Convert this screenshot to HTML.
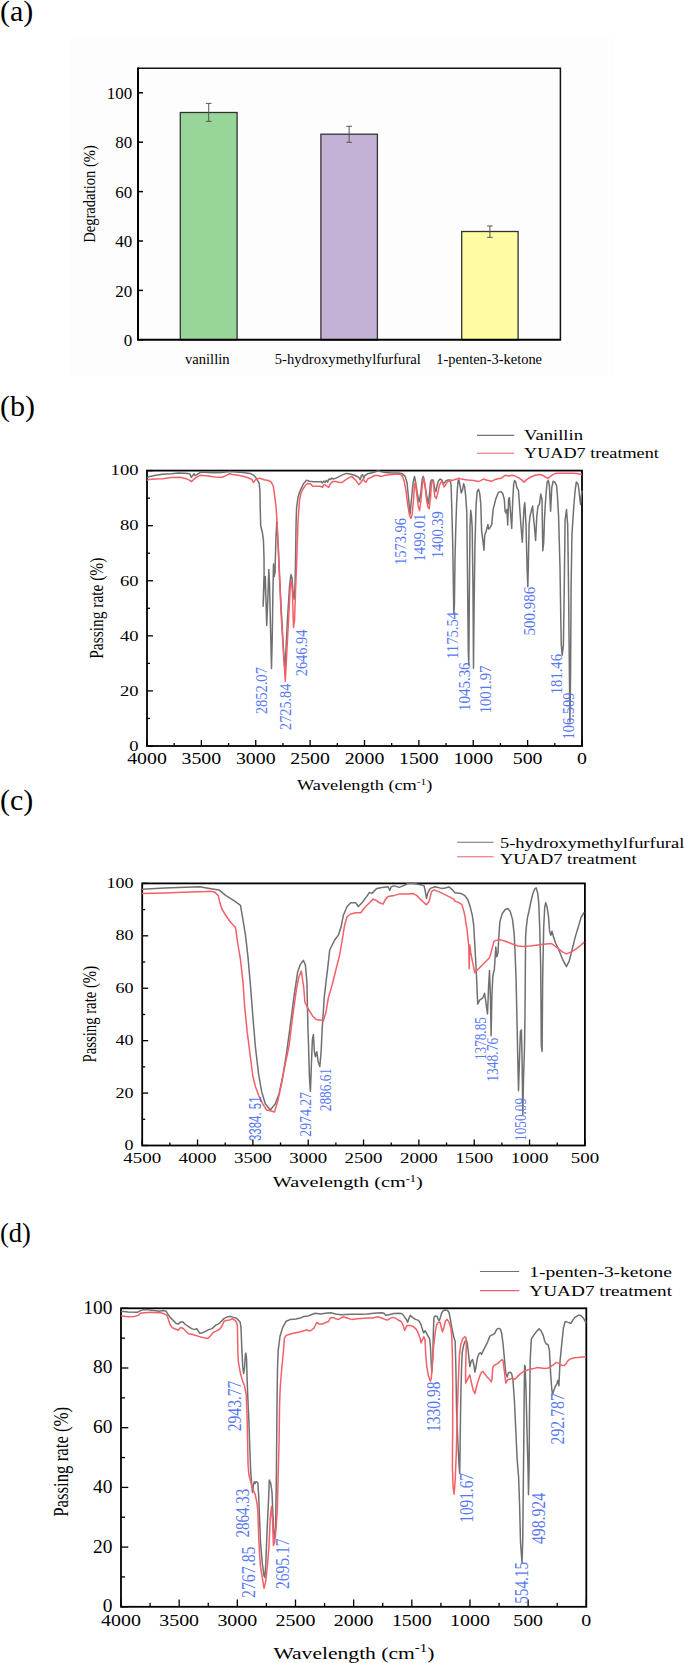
<!DOCTYPE html>
<html><head><meta charset="utf-8"><title>Figure</title>
<style>html,body{margin:0;padding:0;background:#fff;} body{width:685px;height:1663px;overflow:hidden;font-family:"Liberation Serif",serif;} svg{display:block;}</style>
</head><body>
<svg width="685" height="1663" viewBox="0 0 685 1663" font-family="Liberation Serif, serif"><text x="0" y="21.3" font-size="30" text-anchor="start" fill="#000" font-weight="normal">(a)</text>
<text x="0" y="416" font-size="30" text-anchor="start" fill="#000" font-weight="normal">(b)</text>
<text x="0" y="810" font-size="30" text-anchor="start" fill="#000" font-weight="normal">(c)</text>
<text x="0" y="1241.5" font-size="26.5" text-anchor="start" fill="#000" font-weight="normal">(d)</text>
<rect x="71" y="37.5" width="542" height="339.5" fill="#fdfdfd" stroke="none" stroke-width="1"/>
<rect x="180.3" y="112.5" width="56.79999999999998" height="227.3" fill="#98d598" stroke="#333" stroke-width="1.3"/>
<line x1="208.7" y1="103.4" x2="208.7" y2="121.3" stroke="#555" stroke-width="1"/>
<line x1="205.89999999999998" y1="103.4" x2="211.5" y2="103.4" stroke="#555" stroke-width="1"/>
<line x1="205.89999999999998" y1="121.3" x2="211.5" y2="121.3" stroke="#555" stroke-width="1"/>
<rect x="320.9" y="134.2" width="56.5" height="205.60000000000002" fill="#c4b1d6" stroke="#333" stroke-width="1.3"/>
<line x1="349.15" y1="126.3" x2="349.15" y2="142.3" stroke="#555" stroke-width="1"/>
<line x1="346.34999999999997" y1="126.3" x2="351.95" y2="126.3" stroke="#555" stroke-width="1"/>
<line x1="346.34999999999997" y1="142.3" x2="351.95" y2="142.3" stroke="#555" stroke-width="1"/>
<rect x="461.7" y="231.5" width="56.400000000000034" height="108.30000000000001" fill="#fffca3" stroke="#333" stroke-width="1.3"/>
<line x1="489.9" y1="226.0" x2="489.9" y2="237.3" stroke="#555" stroke-width="1"/>
<line x1="487.09999999999997" y1="226.0" x2="492.7" y2="226.0" stroke="#555" stroke-width="1"/>
<line x1="487.09999999999997" y1="237.3" x2="492.7" y2="237.3" stroke="#555" stroke-width="1"/>
<path d="M138,68.2 H560.4 V339.8" fill="none" stroke="#111" stroke-width="1.5"/>
<path d="M138,67.45 V339.8 H561.15" fill="none" stroke="#000" stroke-width="2"/>
<line x1="138" y1="339.8" x2="143" y2="339.8" stroke="#000" stroke-width="1.5"/>
<text x="123.72" y="346.0" font-size="16" text-anchor="start" fill="#000" font-weight="normal" textLength="8.48" lengthAdjust="spacingAndGlyphs">0</text>
<line x1="138" y1="290.4" x2="143" y2="290.4" stroke="#000" stroke-width="1.5"/>
<text x="115.24" y="296.59999999999997" font-size="16" text-anchor="start" fill="#000" font-weight="normal" textLength="16.96" lengthAdjust="spacingAndGlyphs">20</text>
<line x1="138" y1="241.0" x2="143" y2="241.0" stroke="#000" stroke-width="1.5"/>
<text x="115.24" y="247.2" font-size="16" text-anchor="start" fill="#000" font-weight="normal" textLength="16.96" lengthAdjust="spacingAndGlyphs">40</text>
<line x1="138" y1="191.6" x2="143" y2="191.6" stroke="#000" stroke-width="1.5"/>
<text x="115.24" y="197.79999999999998" font-size="16" text-anchor="start" fill="#000" font-weight="normal" textLength="16.96" lengthAdjust="spacingAndGlyphs">60</text>
<line x1="138" y1="142.2" x2="143" y2="142.2" stroke="#000" stroke-width="1.5"/>
<text x="115.24" y="148.39999999999998" font-size="16" text-anchor="start" fill="#000" font-weight="normal" textLength="16.96" lengthAdjust="spacingAndGlyphs">80</text>
<line x1="138" y1="92.79999999999998" x2="143" y2="92.79999999999998" stroke="#000" stroke-width="1.5"/>
<text x="106.76" y="98.99999999999999" font-size="16" text-anchor="start" fill="#000" font-weight="normal" textLength="25.44" lengthAdjust="spacingAndGlyphs">100</text>
<text x="95.2" y="194" font-size="16.7" text-anchor="middle" fill="#000" font-weight="normal" textLength="97.5" lengthAdjust="spacingAndGlyphs" transform="rotate(-90 95.2 194)">Degradation (%)</text>
<text x="185.1" y="363.5" font-size="14" text-anchor="start" fill="#000" font-weight="normal" textLength="44.4" lengthAdjust="spacingAndGlyphs">vanillin</text>
<text x="274.8" y="363.5" font-size="14" text-anchor="start" fill="#000" font-weight="normal" textLength="146.0" lengthAdjust="spacingAndGlyphs">5-hydroxymethylfurfural</text>
<text x="436.3" y="363.5" font-size="14" text-anchor="start" fill="#000" font-weight="normal" textLength="105.7" lengthAdjust="spacingAndGlyphs">1-penten-3-ketone</text>
<rect x="147" y="470.6" width="435" height="275.4" fill="none" stroke="#000" stroke-width="1.8"/>
<line x1="147" y1="746.0" x2="153" y2="746.0" stroke="#000" stroke-width="1.3"/>
<text x="129.2" y="750.8" font-size="15.5" text-anchor="start" fill="#000" font-weight="normal" textLength="9.3" lengthAdjust="spacingAndGlyphs">0</text>
<line x1="147" y1="718.46" x2="150" y2="718.46" stroke="#000" stroke-width="1.3"/>
<line x1="147" y1="690.92" x2="153" y2="690.92" stroke="#000" stroke-width="1.3"/>
<text x="119.9" y="695.7199999999999" font-size="15.5" text-anchor="start" fill="#000" font-weight="normal" textLength="18.6" lengthAdjust="spacingAndGlyphs">20</text>
<line x1="147" y1="663.38" x2="150" y2="663.38" stroke="#000" stroke-width="1.3"/>
<line x1="147" y1="635.84" x2="153" y2="635.84" stroke="#000" stroke-width="1.3"/>
<text x="119.9" y="640.64" font-size="15.5" text-anchor="start" fill="#000" font-weight="normal" textLength="18.6" lengthAdjust="spacingAndGlyphs">40</text>
<line x1="147" y1="608.3" x2="150" y2="608.3" stroke="#000" stroke-width="1.3"/>
<line x1="147" y1="580.76" x2="153" y2="580.76" stroke="#000" stroke-width="1.3"/>
<text x="119.9" y="585.56" font-size="15.5" text-anchor="start" fill="#000" font-weight="normal" textLength="18.6" lengthAdjust="spacingAndGlyphs">60</text>
<line x1="147" y1="553.22" x2="150" y2="553.22" stroke="#000" stroke-width="1.3"/>
<line x1="147" y1="525.6800000000001" x2="153" y2="525.6800000000001" stroke="#000" stroke-width="1.3"/>
<text x="119.9" y="530.48" font-size="15.5" text-anchor="start" fill="#000" font-weight="normal" textLength="18.6" lengthAdjust="spacingAndGlyphs">80</text>
<line x1="147" y1="498.14" x2="150" y2="498.14" stroke="#000" stroke-width="1.3"/>
<line x1="147" y1="470.6" x2="153" y2="470.6" stroke="#000" stroke-width="1.3"/>
<text x="110.6" y="475.40000000000003" font-size="15.5" text-anchor="start" fill="#000" font-weight="normal" textLength="27.9" lengthAdjust="spacingAndGlyphs">100</text>
<line x1="147.0" y1="746" x2="147.0" y2="740" stroke="#000" stroke-width="1.3"/>
<text x="127.2" y="763.9" font-size="16.5" text-anchor="start" fill="#000" font-weight="normal" textLength="39.6" lengthAdjust="spacingAndGlyphs">4000</text>
<line x1="174.1875" y1="746" x2="174.1875" y2="743" stroke="#000" stroke-width="1.3"/>
<line x1="201.375" y1="746" x2="201.375" y2="740" stroke="#000" stroke-width="1.3"/>
<text x="181.57" y="763.9" font-size="16.5" text-anchor="start" fill="#000" font-weight="normal" textLength="39.6" lengthAdjust="spacingAndGlyphs">3500</text>
<line x1="228.5625" y1="746" x2="228.5625" y2="743" stroke="#000" stroke-width="1.3"/>
<line x1="255.75" y1="746" x2="255.75" y2="740" stroke="#000" stroke-width="1.3"/>
<text x="235.95" y="763.9" font-size="16.5" text-anchor="start" fill="#000" font-weight="normal" textLength="39.6" lengthAdjust="spacingAndGlyphs">3000</text>
<line x1="282.9375" y1="746" x2="282.9375" y2="743" stroke="#000" stroke-width="1.3"/>
<line x1="310.125" y1="746" x2="310.125" y2="740" stroke="#000" stroke-width="1.3"/>
<text x="290.32" y="763.9" font-size="16.5" text-anchor="start" fill="#000" font-weight="normal" textLength="39.6" lengthAdjust="spacingAndGlyphs">2500</text>
<line x1="337.3125" y1="746" x2="337.3125" y2="743" stroke="#000" stroke-width="1.3"/>
<line x1="364.5" y1="746" x2="364.5" y2="740" stroke="#000" stroke-width="1.3"/>
<text x="344.7" y="763.9" font-size="16.5" text-anchor="start" fill="#000" font-weight="normal" textLength="39.6" lengthAdjust="spacingAndGlyphs">2000</text>
<line x1="391.6875" y1="746" x2="391.6875" y2="743" stroke="#000" stroke-width="1.3"/>
<line x1="418.875" y1="746" x2="418.875" y2="740" stroke="#000" stroke-width="1.3"/>
<text x="399.07" y="763.9" font-size="16.5" text-anchor="start" fill="#000" font-weight="normal" textLength="39.6" lengthAdjust="spacingAndGlyphs">1500</text>
<line x1="446.0625" y1="746" x2="446.0625" y2="743" stroke="#000" stroke-width="1.3"/>
<line x1="473.25" y1="746" x2="473.25" y2="740" stroke="#000" stroke-width="1.3"/>
<text x="453.45" y="763.9" font-size="16.5" text-anchor="start" fill="#000" font-weight="normal" textLength="39.6" lengthAdjust="spacingAndGlyphs">1000</text>
<line x1="500.4375" y1="746" x2="500.4375" y2="743" stroke="#000" stroke-width="1.3"/>
<line x1="527.625" y1="746" x2="527.625" y2="740" stroke="#000" stroke-width="1.3"/>
<text x="512.77" y="763.9" font-size="16.5" text-anchor="start" fill="#000" font-weight="normal" textLength="29.7" lengthAdjust="spacingAndGlyphs">500</text>
<line x1="554.8125" y1="746" x2="554.8125" y2="743" stroke="#000" stroke-width="1.3"/>
<line x1="582.0" y1="746" x2="582.0" y2="740" stroke="#000" stroke-width="1.3"/>
<text x="577.05" y="763.9" font-size="16.5" text-anchor="start" fill="#000" font-weight="normal" textLength="9.9" lengthAdjust="spacingAndGlyphs">0</text>
<text x="102.9" y="608.2" font-size="18.6" text-anchor="middle" fill="#000" font-weight="normal" textLength="101" lengthAdjust="spacingAndGlyphs" transform="rotate(-90 102.9 608.2)">Passing rate (%)</text>
<text x="297" y="790.2" font-size="14.5" textLength="135.4" lengthAdjust="spacingAndGlyphs">Wavelength (cm<tspan font-size="9" dy="-5">-1</tspan><tspan dy="5">)</tspan></text>
<line x1="477" y1="435.4" x2="514.2" y2="435.4" stroke="#707070" stroke-width="1.1"/>
<line x1="477" y1="453.2" x2="514.2" y2="453.2" stroke="#f45f68" stroke-width="1.1"/>
<text x="524" y="440.4" font-size="14.5" text-anchor="start" fill="#000" font-weight="normal" textLength="59" lengthAdjust="spacingAndGlyphs">Vanillin</text>
<text x="524" y="458" font-size="14.5" text-anchor="start" fill="#000" font-weight="normal" textLength="134.8" lengthAdjust="spacingAndGlyphs">YUAD7 treatment</text>
<rect x="142.2" y="883.4" width="442.7" height="262.1" fill="none" stroke="#000" stroke-width="1.8"/>
<line x1="142.2" y1="1145.5" x2="148.2" y2="1145.5" stroke="#000" stroke-width="1.3"/>
<text x="124.47" y="1150.1" font-size="14.8" text-anchor="start" fill="#000" font-weight="normal" textLength="9.03" lengthAdjust="spacingAndGlyphs">0</text>
<line x1="142.2" y1="1119.29" x2="145.2" y2="1119.29" stroke="#000" stroke-width="1.3"/>
<line x1="142.2" y1="1093.08" x2="148.2" y2="1093.08" stroke="#000" stroke-width="1.3"/>
<text x="115.44" y="1097.6799999999998" font-size="14.8" text-anchor="start" fill="#000" font-weight="normal" textLength="18.06" lengthAdjust="spacingAndGlyphs">20</text>
<line x1="142.2" y1="1066.87" x2="145.2" y2="1066.87" stroke="#000" stroke-width="1.3"/>
<line x1="142.2" y1="1040.66" x2="148.2" y2="1040.66" stroke="#000" stroke-width="1.3"/>
<text x="115.44" y="1045.26" font-size="14.8" text-anchor="start" fill="#000" font-weight="normal" textLength="18.06" lengthAdjust="spacingAndGlyphs">40</text>
<line x1="142.2" y1="1014.45" x2="145.2" y2="1014.45" stroke="#000" stroke-width="1.3"/>
<line x1="142.2" y1="988.24" x2="148.2" y2="988.24" stroke="#000" stroke-width="1.3"/>
<text x="115.44" y="992.84" font-size="14.8" text-anchor="start" fill="#000" font-weight="normal" textLength="18.06" lengthAdjust="spacingAndGlyphs">60</text>
<line x1="142.2" y1="962.03" x2="145.2" y2="962.03" stroke="#000" stroke-width="1.3"/>
<line x1="142.2" y1="935.8199999999999" x2="148.2" y2="935.8199999999999" stroke="#000" stroke-width="1.3"/>
<text x="115.44" y="940.42" font-size="14.8" text-anchor="start" fill="#000" font-weight="normal" textLength="18.06" lengthAdjust="spacingAndGlyphs">80</text>
<line x1="142.2" y1="909.61" x2="145.2" y2="909.61" stroke="#000" stroke-width="1.3"/>
<line x1="142.2" y1="883.4" x2="148.2" y2="883.4" stroke="#000" stroke-width="1.3"/>
<text x="106.42" y="888.0" font-size="14.8" text-anchor="start" fill="#000" font-weight="normal" textLength="27.08" lengthAdjust="spacingAndGlyphs">100</text>
<line x1="142.2" y1="1145.5" x2="142.2" y2="1139.5" stroke="#000" stroke-width="1.3"/>
<text x="123.29" y="1163.4" font-size="15.5" text-anchor="start" fill="#000" font-weight="normal" textLength="37.82" lengthAdjust="spacingAndGlyphs">4500</text>
<line x1="169.86874999999998" y1="1145.5" x2="169.86874999999998" y2="1142.5" stroke="#000" stroke-width="1.3"/>
<line x1="197.5375" y1="1145.5" x2="197.5375" y2="1139.5" stroke="#000" stroke-width="1.3"/>
<text x="178.63" y="1163.4" font-size="15.5" text-anchor="start" fill="#000" font-weight="normal" textLength="37.82" lengthAdjust="spacingAndGlyphs">4000</text>
<line x1="225.20624999999998" y1="1145.5" x2="225.20624999999998" y2="1142.5" stroke="#000" stroke-width="1.3"/>
<line x1="252.875" y1="1145.5" x2="252.875" y2="1139.5" stroke="#000" stroke-width="1.3"/>
<text x="233.97" y="1163.4" font-size="15.5" text-anchor="start" fill="#000" font-weight="normal" textLength="37.82" lengthAdjust="spacingAndGlyphs">3500</text>
<line x1="280.54375" y1="1145.5" x2="280.54375" y2="1142.5" stroke="#000" stroke-width="1.3"/>
<line x1="308.2125" y1="1145.5" x2="308.2125" y2="1139.5" stroke="#000" stroke-width="1.3"/>
<text x="289.3" y="1163.4" font-size="15.5" text-anchor="start" fill="#000" font-weight="normal" textLength="37.82" lengthAdjust="spacingAndGlyphs">3000</text>
<line x1="335.88125" y1="1145.5" x2="335.88125" y2="1142.5" stroke="#000" stroke-width="1.3"/>
<line x1="363.54999999999995" y1="1145.5" x2="363.54999999999995" y2="1139.5" stroke="#000" stroke-width="1.3"/>
<text x="344.64" y="1163.4" font-size="15.5" text-anchor="start" fill="#000" font-weight="normal" textLength="37.82" lengthAdjust="spacingAndGlyphs">2500</text>
<line x1="391.21875" y1="1145.5" x2="391.21875" y2="1142.5" stroke="#000" stroke-width="1.3"/>
<line x1="418.8875" y1="1145.5" x2="418.8875" y2="1139.5" stroke="#000" stroke-width="1.3"/>
<text x="399.98" y="1163.4" font-size="15.5" text-anchor="start" fill="#000" font-weight="normal" textLength="37.82" lengthAdjust="spacingAndGlyphs">2000</text>
<line x1="446.55625" y1="1145.5" x2="446.55625" y2="1142.5" stroke="#000" stroke-width="1.3"/>
<line x1="474.22499999999997" y1="1145.5" x2="474.22499999999997" y2="1139.5" stroke="#000" stroke-width="1.3"/>
<text x="455.31" y="1163.4" font-size="15.5" text-anchor="start" fill="#000" font-weight="normal" textLength="37.82" lengthAdjust="spacingAndGlyphs">1500</text>
<line x1="501.89374999999995" y1="1145.5" x2="501.89374999999995" y2="1142.5" stroke="#000" stroke-width="1.3"/>
<line x1="529.5625" y1="1145.5" x2="529.5625" y2="1139.5" stroke="#000" stroke-width="1.3"/>
<text x="510.65" y="1163.4" font-size="15.5" text-anchor="start" fill="#000" font-weight="normal" textLength="37.82" lengthAdjust="spacingAndGlyphs">1000</text>
<line x1="557.23125" y1="1145.5" x2="557.23125" y2="1142.5" stroke="#000" stroke-width="1.3"/>
<line x1="584.9" y1="1145.5" x2="584.9" y2="1139.5" stroke="#000" stroke-width="1.3"/>
<text x="570.72" y="1163.4" font-size="15.5" text-anchor="start" fill="#000" font-weight="normal" textLength="28.36" lengthAdjust="spacingAndGlyphs">500</text>
<text x="95.7" y="1014.2" font-size="19.7" text-anchor="middle" fill="#000" font-weight="normal" textLength="96.5" lengthAdjust="spacingAndGlyphs" transform="rotate(-90 95.7 1014.2)">Passing rate (%)</text>
<text x="272.8" y="1187.4" font-size="15.5" textLength="150" lengthAdjust="spacingAndGlyphs">Wavelength (cm<tspan font-size="9.5" dy="-5.5">-1</tspan><tspan dy="5.5">)</tspan></text>
<line x1="457.2" y1="842.2" x2="493.6" y2="842.2" stroke="#707070" stroke-width="1.1"/>
<line x1="457.2" y1="856.8" x2="493.6" y2="856.8" stroke="#f45f68" stroke-width="1.1"/>
<text x="500" y="847.6" font-size="14.5" text-anchor="start" fill="#000" font-weight="normal" textLength="184.3" lengthAdjust="spacingAndGlyphs">5-hydroxymethylfurfural</text>
<text x="500" y="863.7" font-size="14.5" text-anchor="start" fill="#000" font-weight="normal" textLength="136.7" lengthAdjust="spacingAndGlyphs">YUAD7 treatment</text>
<rect x="121" y="1308.3" width="465.29999999999995" height="298.5" fill="none" stroke="#000" stroke-width="1.8"/>
<line x1="121" y1="1606.8" x2="128.3" y2="1606.8" stroke="#000" stroke-width="1.3"/>
<text x="102.7" y="1612.2" font-size="18.3" text-anchor="start" fill="#000" font-weight="normal" textLength="9.7" lengthAdjust="spacingAndGlyphs">0</text>
<line x1="121" y1="1576.95" x2="125" y2="1576.95" stroke="#000" stroke-width="1.3"/>
<line x1="121" y1="1547.1" x2="128.3" y2="1547.1" stroke="#000" stroke-width="1.3"/>
<text x="93.0" y="1552.5" font-size="18.3" text-anchor="start" fill="#000" font-weight="normal" textLength="19.4" lengthAdjust="spacingAndGlyphs">20</text>
<line x1="121" y1="1517.25" x2="125" y2="1517.25" stroke="#000" stroke-width="1.3"/>
<line x1="121" y1="1487.3999999999999" x2="128.3" y2="1487.3999999999999" stroke="#000" stroke-width="1.3"/>
<text x="93.0" y="1492.8" font-size="18.3" text-anchor="start" fill="#000" font-weight="normal" textLength="19.4" lengthAdjust="spacingAndGlyphs">40</text>
<line x1="121" y1="1457.55" x2="125" y2="1457.55" stroke="#000" stroke-width="1.3"/>
<line x1="121" y1="1427.7" x2="128.3" y2="1427.7" stroke="#000" stroke-width="1.3"/>
<text x="93.0" y="1433.1000000000001" font-size="18.3" text-anchor="start" fill="#000" font-weight="normal" textLength="19.4" lengthAdjust="spacingAndGlyphs">60</text>
<line x1="121" y1="1397.85" x2="125" y2="1397.85" stroke="#000" stroke-width="1.3"/>
<line x1="121" y1="1368.0" x2="128.3" y2="1368.0" stroke="#000" stroke-width="1.3"/>
<text x="93.0" y="1373.4" font-size="18.3" text-anchor="start" fill="#000" font-weight="normal" textLength="19.4" lengthAdjust="spacingAndGlyphs">80</text>
<line x1="121" y1="1338.1499999999999" x2="125" y2="1338.1499999999999" stroke="#000" stroke-width="1.3"/>
<line x1="121" y1="1308.3" x2="128.3" y2="1308.3" stroke="#000" stroke-width="1.3"/>
<text x="83.3" y="1313.7" font-size="18.3" text-anchor="start" fill="#000" font-weight="normal" textLength="29.1" lengthAdjust="spacingAndGlyphs">100</text>
<line x1="121.0" y1="1606.8" x2="121.0" y2="1599.5" stroke="#000" stroke-width="1.3"/>
<text x="101.11" y="1625.6" font-size="17.3" text-anchor="start" fill="#000" font-weight="normal" textLength="39.79" lengthAdjust="spacingAndGlyphs">4000</text>
<line x1="150.08125" y1="1606.8" x2="150.08125" y2="1602.8" stroke="#000" stroke-width="1.3"/>
<line x1="179.1625" y1="1606.8" x2="179.1625" y2="1599.5" stroke="#000" stroke-width="1.3"/>
<text x="159.27" y="1625.6" font-size="17.3" text-anchor="start" fill="#000" font-weight="normal" textLength="39.79" lengthAdjust="spacingAndGlyphs">3500</text>
<line x1="208.24374999999998" y1="1606.8" x2="208.24374999999998" y2="1602.8" stroke="#000" stroke-width="1.3"/>
<line x1="237.325" y1="1606.8" x2="237.325" y2="1599.5" stroke="#000" stroke-width="1.3"/>
<text x="217.43" y="1625.6" font-size="17.3" text-anchor="start" fill="#000" font-weight="normal" textLength="39.79" lengthAdjust="spacingAndGlyphs">3000</text>
<line x1="266.40625" y1="1606.8" x2="266.40625" y2="1602.8" stroke="#000" stroke-width="1.3"/>
<line x1="295.48749999999995" y1="1606.8" x2="295.48749999999995" y2="1599.5" stroke="#000" stroke-width="1.3"/>
<text x="275.59" y="1625.6" font-size="17.3" text-anchor="start" fill="#000" font-weight="normal" textLength="39.79" lengthAdjust="spacingAndGlyphs">2500</text>
<line x1="324.56874999999997" y1="1606.8" x2="324.56874999999997" y2="1602.8" stroke="#000" stroke-width="1.3"/>
<line x1="353.65" y1="1606.8" x2="353.65" y2="1599.5" stroke="#000" stroke-width="1.3"/>
<text x="333.75" y="1625.6" font-size="17.3" text-anchor="start" fill="#000" font-weight="normal" textLength="39.79" lengthAdjust="spacingAndGlyphs">2000</text>
<line x1="382.73125" y1="1606.8" x2="382.73125" y2="1602.8" stroke="#000" stroke-width="1.3"/>
<line x1="411.8125" y1="1606.8" x2="411.8125" y2="1599.5" stroke="#000" stroke-width="1.3"/>
<text x="391.92" y="1625.6" font-size="17.3" text-anchor="start" fill="#000" font-weight="normal" textLength="39.79" lengthAdjust="spacingAndGlyphs">1500</text>
<line x1="440.89374999999995" y1="1606.8" x2="440.89374999999995" y2="1602.8" stroke="#000" stroke-width="1.3"/>
<line x1="469.97499999999997" y1="1606.8" x2="469.97499999999997" y2="1599.5" stroke="#000" stroke-width="1.3"/>
<text x="450.08" y="1625.6" font-size="17.3" text-anchor="start" fill="#000" font-weight="normal" textLength="39.79" lengthAdjust="spacingAndGlyphs">1000</text>
<line x1="499.05625" y1="1606.8" x2="499.05625" y2="1602.8" stroke="#000" stroke-width="1.3"/>
<line x1="528.1374999999999" y1="1606.8" x2="528.1374999999999" y2="1599.5" stroke="#000" stroke-width="1.3"/>
<text x="513.22" y="1625.6" font-size="17.3" text-anchor="start" fill="#000" font-weight="normal" textLength="29.84" lengthAdjust="spacingAndGlyphs">500</text>
<line x1="557.21875" y1="1606.8" x2="557.21875" y2="1602.8" stroke="#000" stroke-width="1.3"/>
<line x1="586.3" y1="1606.8" x2="586.3" y2="1599.5" stroke="#000" stroke-width="1.3"/>
<text x="581.33" y="1625.6" font-size="17.3" text-anchor="start" fill="#000" font-weight="normal" textLength="9.95" lengthAdjust="spacingAndGlyphs">0</text>
<text x="67.6" y="1461.8" font-size="20.5" text-anchor="middle" fill="#000" font-weight="normal" textLength="110" lengthAdjust="spacingAndGlyphs" transform="rotate(-90 67.6 1461.8)">Passing rate (%)</text>
<text x="273.4" y="1659" font-size="17.5" textLength="161" lengthAdjust="spacingAndGlyphs">Wavelength (cm<tspan font-size="12" dy="-7">-1</tspan><tspan dy="7">)</tspan></text>
<line x1="479.9" y1="1271.5" x2="519.2" y2="1271.5" stroke="#707070" stroke-width="1.1"/>
<line x1="479.9" y1="1290.6" x2="519.2" y2="1290.6" stroke="#f45f68" stroke-width="1.1"/>
<text x="529.3" y="1276.5" font-size="14.5" text-anchor="start" fill="#000" font-weight="normal" textLength="142.7" lengthAdjust="spacingAndGlyphs">1-penten-3-ketone</text>
<text x="529.3" y="1296" font-size="14.5" text-anchor="start" fill="#000" font-weight="normal" textLength="142.7" lengthAdjust="spacingAndGlyphs">YUAD7 treatment</text>
<polyline points="146.8,477.6 150.3,476.4 155.5,475.2 162.5,474.3 171.3,473.8 178.3,473.1 185.3,473.2 189.7,473.8 191.4,477.3 192.3,475.9 194.1,473.8 194.9,475.5 196.7,474.6 201.1,472.0 208.1,472.4 215.1,472.7 222.1,472.4 229.1,471.5 236.1,472.0 243.1,472.5 250.1,473.4 253.6,475.2 256.2,478.1 259.2,483.4 259.9,490.4 260.2,507.4 260.7,525.8 262.4,532.8 263.4,539.9 264.0,556.9 264.1,572.4 263.6,589.4 263.1,606.3 264.6,578.0 265.3,576.6 266.0,600.7 266.7,625.4 267.5,606.3 268.2,589.4 268.8,569.6 269.6,586.5 270.5,627.5 271.5,668.5 272.3,634.6 272.9,592.2 273.5,563.9 274.2,576.6 275.0,572.4 275.9,538.5 276.8,521.5 278.3,547.0 280.0,585.1 281.8,620.4 283.6,651.5 284.9,670.6 287.4,620.4 289.6,585.1 291.0,574.5 292.0,578.0 293.1,592.2 294.1,599.2 294.9,589.4 295.5,563.9 296.1,521.5 296.6,507.4 298.0,497.5 299.7,491.8 301.6,487.6 303.7,483.4 306.5,480.3 309.4,481.3 313.6,481.7 319.9,481.7 321.1,481.6 322.4,482.9 323.8,481.1 325.2,482.5 326.4,480.4 327.6,482.2 329.0,479.0 330.8,479.4 331.6,478.1 333.4,479.0 336.0,478.1 339.5,476.4 343.0,474.6 346.5,473.4 350.0,474.1 355.3,475.5 358.8,477.3 360.2,479.9 361.4,475.5 362.6,474.6 363.7,478.1 364.9,475.5 367.6,473.8 371.1,472.9 375.4,471.7 378.1,471.1 385.1,472.4 392.1,472.9 399.1,472.9 402.6,473.8 405.2,476.4 407.0,482.5 408.2,494.8 409.2,505.3 410.1,514.1 411.4,500.0 413.1,482.5 414.5,476.4 415.7,482.5 417.5,494.8 419.2,501.8 421.0,491.3 422.2,479.0 423.3,476.4 424.5,482.5 426.8,496.5 428.5,503.5 429.7,491.3 430.6,481.6 431.5,479.9 433.2,479.9 434.7,488.5 436.0,491.6 437.1,485.3 438.6,480.6 440.2,479.1 441.7,479.9 443.3,483.8 444.9,482.2 446.4,480.6 448.0,479.9 450.3,479.9 451.1,485.3 451.9,511.9 452.7,543.2 453.2,574.4 453.8,613.5 454.4,605.7 455.0,558.8 455.8,527.5 456.6,504.1 457.4,488.5 458.2,480.6 458.9,479.9 460.0,485.3 461.3,493.1 462.5,490.0 463.6,483.8 464.7,486.9 465.7,496.3 466.8,511.9 467.5,574.4 468.3,652.6 468.8,665.1 469.4,590.1 470.0,527.5 470.7,510.3 471.4,515.0 472.2,527.5 473.0,590.1 473.5,668.2 474.1,605.7 475.0,543.2 476.1,504.1 477.2,491.6 478.5,489.2 479.7,493.1 480.8,504.1 481.6,530.7 483.2,543.2 484.0,550.2 484.7,535.4 486.3,530.7 487.9,524.4 488.6,529.1 490.2,527.5 491.8,524.4 493.1,509.6 495.7,499.3 498.3,492.4 500.9,491.6 502.6,493.3 504.3,499.3 505.1,511.3 506.0,513.0 506.9,509.6 507.7,525.0 508.6,499.3 509.4,497.6 510.3,509.6 511.7,528.4 512.8,499.3 513.7,483.9 514.6,480.4 515.8,482.1 516.8,487.3 518.5,490.7 519.7,507.8 520.9,525.0 522.3,542.1 523.1,525.0 524.0,507.8 524.8,502.7 526.0,525.0 527.1,567.8 527.8,586.7 528.3,567.8 529.1,525.0 530.0,516.4 531.2,511.3 532.6,506.1 533.4,516.4 534.3,525.0 535.6,540.4 536.8,516.4 538.0,506.1 539.4,504.4 540.8,494.1 542.0,499.3 542.8,550.7 543.7,542.1 544.6,516.4 545.9,495.8 547.1,482.1 548.3,480.4 549.4,485.6 550.6,511.3 551.8,487.3 553.1,481.3 554.8,482.1 556.6,485.6 557.4,495.8 558.6,516.4 560.0,567.8 560.8,619.2 561.3,644.9 562.2,655.2 563.4,644.9 564.3,585.0 565.1,519.8 566.5,509.6 567.7,525.0 568.5,585.0 569.4,670.7 569.9,722.1 570.6,670.7 571.1,585.0 572.0,533.6 573.7,507.8 575.1,490.7 576.3,482.1 578.0,483.9 578.8,489.0 580.5,504.4 581.9,490.7" fill="none" stroke="#707070" stroke-width="1.5" stroke-linejoin="round"/>
<polyline points="146.8,480.4 149.4,479.4 155.5,479.0 162.5,478.7 171.3,477.6 180.0,477.3 186.2,478.7 189.7,480.4 191.4,481.6 193.2,479.9 197.6,476.4 201.1,475.2 208.1,475.9 215.1,476.9 222.1,477.3 225.6,475.9 229.1,473.8 232.6,474.6 239.6,475.5 246.6,477.3 251.9,479.4 253.3,482.5 254.5,481.1 255.4,479.9 257.1,479.0 259.7,478.1 261.3,478.8 264.1,479.8 268.4,480.5 271.2,482.0 273.3,486.2 274.7,496.1 276.1,507.4 277.1,522.9 278.3,549.8 279.7,582.3 281.1,613.4 283.2,648.7 285.3,681.2 287.0,648.7 288.9,613.4 290.3,585.1 291.4,580.9 292.4,592.2 293.5,627.5 294.5,620.4 295.5,592.2 296.6,563.9 298.0,521.5 299.5,500.3 300.9,493.3 303.0,489.0 305.8,484.8 307.9,483.4 310.8,484.1 312.9,486.2 316.4,486.2 319.9,486.2 321.1,486.4 322.4,487.4 323.8,484.6 325.5,485.1 327.3,486.4 328.7,487.4 329.9,484.6 332.5,481.6 336.0,481.6 339.5,482.5 342.2,482.5 344.8,480.4 348.3,478.1 351.8,476.4 353.5,478.1 356.2,480.8 358.8,484.6 360.9,482.5 363.2,479.0 364.9,481.6 366.2,482.2 367.6,479.0 371.1,477.3 374.6,475.5 378.1,475.5 381.6,476.4 385.1,475.2 392.1,474.6 397.3,474.1 400.8,474.6 402.6,476.4 404.3,481.6 406.1,491.3 407.8,505.3 409.6,515.8 411.0,518.4 412.2,514.1 413.5,500.0 414.5,484.3 415.2,482.5 416.6,493.0 418.4,507.0 419.6,510.5 421.0,500.0 422.2,486.0 423.6,478.1 425.0,484.3 426.6,500.0 428.0,507.0 429.2,508.8 430.6,496.5 431.5,482.5 433.2,481.6 434.7,496.3 436.3,498.6 437.8,493.1 439.4,485.3 441.0,482.2 442.5,482.2 444.1,486.9 445.3,485.3 447.2,482.2 450.3,480.6 453.5,479.9 456.6,479.1 458.9,478.3 461.3,479.1 467.5,479.9 473.8,480.6 478.5,481.4 480.8,480.6 483.2,479.1 486.3,479.9 489.7,480.8 491.4,481.3 494.9,479.6 498.3,478.7 501.7,477.9 505.1,475.3 508.6,476.1 512.0,475.3 515.4,476.1 518.8,477.9 522.3,480.4 524.0,482.1 526.6,479.6 530.8,477.0 535.1,475.3 539.4,474.4 542.8,475.3 545.4,477.0 548.0,478.4 550.6,476.1 553.1,474.4 556.6,473.2 561.7,473.2 566.8,473.2 572.0,473.2 577.1,473.6 581.9,474.4" fill="none" stroke="#f45f68" stroke-width="1.5" stroke-linejoin="round"/>
<text x="266.90000000000003" y="714.3" font-size="17.5" text-anchor="start" fill="#5878f2" font-weight="normal" textLength="47.2" lengthAdjust="spacingAndGlyphs" transform="rotate(-90 266.90000000000003 714.3)">2852.07</text>
<text x="290.6" y="729.9" font-size="17.5" text-anchor="start" fill="#5878f2" font-weight="normal" textLength="46.2" lengthAdjust="spacingAndGlyphs" transform="rotate(-90 290.6 729.9)">2725.84</text>
<text x="307.0" y="676.3" font-size="17.5" text-anchor="start" fill="#5878f2" font-weight="normal" textLength="46.7" lengthAdjust="spacingAndGlyphs" transform="rotate(-90 307.0 676.3)">2646.94</text>
<text x="406.5" y="564.9" font-size="17.5" text-anchor="start" fill="#5878f2" font-weight="normal" textLength="46.9" lengthAdjust="spacingAndGlyphs" transform="rotate(-90 406.5 564.9)">1573.96</text>
<text x="425.0" y="561.5" font-size="17.5" text-anchor="start" fill="#5878f2" font-weight="normal" textLength="47.9" lengthAdjust="spacingAndGlyphs" transform="rotate(-90 425.0 561.5)">1499.01</text>
<text x="443.5" y="558.1999999999999" font-size="17.5" text-anchor="start" fill="#5878f2" font-weight="normal" textLength="47.0" lengthAdjust="spacingAndGlyphs" transform="rotate(-90 443.5 558.1999999999999)">1400.39</text>
<text x="457.6" y="658.9" font-size="17.5" text-anchor="start" fill="#5878f2" font-weight="normal" textLength="46.9" lengthAdjust="spacingAndGlyphs" transform="rotate(-90 457.6 658.9)">1175.54</text>
<text x="470.3" y="711.0" font-size="17.5" text-anchor="start" fill="#5878f2" font-weight="normal" textLength="48.6" lengthAdjust="spacingAndGlyphs" transform="rotate(-90 470.3 711.0)">1045.36</text>
<text x="491.20000000000005" y="713.3" font-size="17.5" text-anchor="start" fill="#5878f2" font-weight="normal" textLength="47.6" lengthAdjust="spacingAndGlyphs" transform="rotate(-90 491.20000000000005 713.3)">1001.97</text>
<text x="534.8000000000001" y="635.4" font-size="17.5" text-anchor="start" fill="#5878f2" font-weight="normal" textLength="48.6" lengthAdjust="spacingAndGlyphs" transform="rotate(-90 534.8000000000001 635.4)">500.986</text>
<text x="561.7" y="694.1999999999999" font-size="17.5" text-anchor="start" fill="#5878f2" font-weight="normal" textLength="40.2" lengthAdjust="spacingAndGlyphs" transform="rotate(-90 561.7 694.1999999999999)">181.46</text>
<text x="574.4" y="739.5" font-size="17.5" text-anchor="start" fill="#5878f2" font-weight="normal" textLength="46.9" lengthAdjust="spacingAndGlyphs" transform="rotate(-90 574.4 739.5)">106.509</text>
<polyline points="142.0,889.2 164.8,887.9 199.6,886.7 209.5,888.4 218.9,889.9 225.6,895.4 234.3,900.8 240.5,905.3 243.0,920.2 245.5,935.1 248.0,957.4 250.4,984.7 252.9,1017.0 255.4,1046.8 258.6,1074.1 261.6,1091.4 265.3,1103.8 270.3,1110.0 275.3,1103.8 279.0,1093.9 282.7,1076.5 286.4,1054.2 290.1,1026.9 293.9,997.1 297.6,972.3 300.1,964.9 303.3,960.4 305.4,964.9 306.9,982.2 307.9,1026.9 308.6,1046.8 309.4,1076.5 310.4,1091.4 311.4,1064.1 312.4,1039.3 313.4,1034.4 314.4,1051.7 315.4,1056.7 316.8,1051.7 318.1,1061.6 319.8,1066.6 321.1,1051.7 322.3,1026.9 324.3,997.1 326.0,982.2 327.8,967.3 329.7,950.0 332.2,945.0 334.7,940.0 338.4,935.1 340.9,927.6 343.4,915.2 347.1,906.5 350.8,902.8 355.8,902.8 358.3,906.5 362.0,902.8 365.7,897.9 369.5,892.4 371.9,893.4 376.9,888.4 381.9,887.4 388.1,886.7 389.8,890.4 391.3,886.7 394.3,885.9 399.2,887.4 404.2,885.4 407.9,883.5 411.6,883.0 416.6,884.0 421.6,884.9 424.1,885.9 425.3,891.6 426.5,898.4 427.8,892.9 430.3,888.4 435.2,886.7 441.4,888.4 445.1,887.9 448.9,886.9 452.6,889.9 455.0,892.8 460.9,893.4 464.9,895.7 467.8,899.7 470.4,907.6 472.3,915.4 473.7,925.3 474.7,943.0 475.7,960.8 476.7,980.5 477.7,1004.1 479.6,1000.2 482.6,998.2 484.6,993.3 486.1,1004.1 487.5,1014.0 488.5,988.4 489.5,970.6 490.5,1000.2 491.1,1035.7 491.9,996.2 492.8,976.5 494.4,968.7 495.8,947.0 496.8,956.8 498.0,952.9 498.8,937.1 499.9,921.4 502.3,913.5 505.3,909.5 507.8,908.5 510.2,911.5 512.5,919.4 514.1,933.2 515.1,952.9 516.1,980.5 517.1,1025.8 517.7,1055.4 518.5,1090.8 519.6,1055.4 520.4,1031.7 521.4,1029.8 522.0,1055.4 522.8,1114.5 523.6,1075.1 524.4,1051.4 525.0,1016.0 525.6,937.1 526.3,927.3 527.5,917.4 528.9,911.5 530.9,901.6 532.8,893.8 534.8,888.8 536.2,887.9 537.8,893.8 538.8,903.6 539.7,927.3 540.7,966.7 541.3,1045.5 542.1,1051.4 542.7,976.5 543.7,927.3 544.7,907.6 545.7,902.6 547.2,907.6 548.6,917.4 549.6,931.2 550.8,935.2 552.0,931.2 553.5,937.1 555.5,943.0 558.5,948.9 562.4,958.8 566.4,966.7 569.3,960.8 572.3,948.9 575.2,937.1 578.2,927.3 581.1,917.4 584.1,912.5" fill="none" stroke="#707070" stroke-width="1.5" stroke-linejoin="round"/>
<polyline points="142.0,893.4 164.8,892.9 189.6,892.1 205.8,891.6 209.5,891.2 214.5,892.1 218.2,895.4 219.9,902.8 221.9,909.0 225.6,915.2 230.6,922.2 235.5,927.6 238.0,945.0 240.5,959.9 243.0,982.2 244.7,1007.1 247.2,1031.9 249.7,1051.7 252.9,1076.5 255.4,1086.5 259.1,1096.4 262.8,1103.8 266.6,1110.0 270.3,1110.8 274.5,1112.0 277.7,1101.4 281.5,1084.0 285.2,1064.1 288.9,1046.8 292.6,1017.0 296.4,989.7 298.8,977.3 301.3,971.1 303.7,987.2 304.9,1002.1 308.6,1009.5 312.4,1015.7 316.1,1019.5 319.8,1020.0 323.5,1020.7 326.0,1012.0 328.5,997.1 332.2,984.7 335.9,969.8 339.7,954.9 342.2,940.0 344.6,925.2 347.1,916.5 350.8,914.0 355.8,912.7 360.8,912.7 364.5,907.8 369.5,902.8 373.2,899.1 376.9,900.8 379.4,902.8 383.1,904.1 385.6,899.1 388.1,896.6 394.3,895.4 399.2,894.1 404.2,894.1 409.2,894.1 412.9,893.4 416.6,895.4 420.3,899.1 424.1,902.8 426.5,904.8 429.0,901.6 431.5,891.6 434.0,889.9 438.9,891.6 443.9,894.1 448.9,896.6 453.8,899.1 455.0,901.3 458.9,902.6 461.9,904.6 463.9,911.5 465.2,917.4 465.8,923.3 466.8,927.3 467.8,937.1 468.8,947.0 469.2,968.7 469.8,945.0 470.8,952.9 472.7,962.7 474.7,972.6 478.6,968.7 482.6,964.7 486.5,960.8 489.5,957.8 491.5,950.9 494.0,941.1 497.4,940.1 501.3,940.1 506.2,941.5 512.2,944.0 518.1,946.0 523.0,946.6 529.9,946.0 537.8,945.0 545.7,944.0 551.6,943.6 557.5,948.0 562.4,951.9 566.4,953.9 571.3,951.9 576.2,948.9 581.1,945.0 584.1,942.1" fill="none" stroke="#f45f68" stroke-width="1.5" stroke-linejoin="round"/>
<text x="311.1" y="1136.7" font-size="17.5" text-anchor="start" fill="#5878f2" font-weight="normal" textLength="44.7" lengthAdjust="spacingAndGlyphs" transform="rotate(-90 311.1 1136.7)">2974.27</text>
<text x="330.8" y="1111.2" font-size="17.5" text-anchor="start" fill="#5878f2" font-weight="normal" textLength="43.2" lengthAdjust="spacingAndGlyphs" transform="rotate(-90 330.8 1111.2)">2886.61</text>
<text x="486.1" y="1060.1" font-size="17.5" text-anchor="start" fill="#5878f2" font-weight="normal" textLength="43.0" lengthAdjust="spacingAndGlyphs" transform="rotate(-90 486.1 1060.1)">1378.85</text>
<text x="498.40000000000003" y="1081.8" font-size="17.5" text-anchor="start" fill="#5878f2" font-weight="normal" textLength="44.0" lengthAdjust="spacingAndGlyphs" transform="rotate(-90 498.40000000000003 1081.8)">1348.76</text>
<text x="526.5" y="1140.8999999999999" font-size="17.5" text-anchor="start" fill="#5878f2" font-weight="normal" textLength="43.0" lengthAdjust="spacingAndGlyphs" transform="rotate(-90 526.5 1140.8999999999999)">1050.09</text>
<text x="261.4" y="1141" font-size="17" font-family="Liberation Sans, sans-serif" fill="#5878f2" textLength="44.5" lengthAdjust="spacingAndGlyphs" transform="rotate(-90 261.4 1141)">3384. 51</text>
<polyline points="121.1,1311.2 128.2,1311.9 137.4,1312.3 140.5,1310.6 143.5,1309.6 148.7,1309.8 153.8,1310.6 158.9,1311.2 163.0,1310.6 166.0,1311.2 168.1,1314.3 170.1,1317.4 173.2,1320.4 176.2,1323.5 178.3,1324.1 180.3,1322.1 183.0,1322.1 185.4,1324.5 188.5,1326.6 191.6,1328.6 194.6,1329.6 196.7,1328.6 198.7,1331.7 199.8,1333.3 202.8,1332.7 205.9,1331.1 208.9,1329.6 212.0,1328.6 214.1,1326.6 216.1,1324.9 218.1,1324.1 220.2,1322.5 222.2,1320.4 224.3,1318.4 227.3,1316.8 230.4,1316.4 233.5,1317.4 236.1,1318.0 238.6,1320.4 240.1,1322.1 241.0,1327.4 241.9,1350.5 242.7,1366.4 243.6,1373.5 244.5,1368.2 245.4,1354.0 245.9,1353.1 246.6,1359.3 247.2,1382.4 248.1,1403.7 248.9,1421.4 249.8,1448.0 250.7,1471.1 251.6,1483.5 252.5,1492.4 253.4,1485.3 254.3,1481.7 255.2,1483.5 256.0,1481.7 257.8,1482.6 258.7,1495.9 259.6,1519.0 260.5,1542.1 262.3,1563.3 264.0,1575.8 264.9,1577.5 265.8,1563.3 267.2,1527.9 268.5,1501.3 269.3,1480.0 270.8,1483.5 272.0,1492.4 272.9,1513.7 273.8,1533.2 274.7,1538.5 275.6,1527.9 276.4,1474.7 277.0,1403.7 277.5,1368.2 278.2,1350.5 280.0,1336.3 282.7,1327.4 286.2,1321.2 290.6,1319.4 296.0,1318.9 301.3,1317.7 303.9,1316.4 308.4,1315.9 311.2,1314.7 315.3,1313.3 320.4,1313.9 325.5,1313.3 330.7,1312.7 335.8,1313.9 340.9,1314.7 351.1,1314.3 361.3,1314.3 367.4,1313.9 373.6,1313.3 381.8,1312.7 383.8,1313.3 385.8,1315.3 388.9,1314.7 394.0,1313.5 400.1,1313.3 402.2,1313.9 404.2,1316.4 406.3,1319.4 407.7,1322.1 408.9,1318.4 410.4,1315.3 412.4,1317.4 415.5,1319.4 418.5,1320.4 420.6,1323.5 422.2,1328.6 423.6,1332.7 425.1,1330.7 429.6,1338.8 430.5,1347.2 431.4,1366.6 431.9,1372.1 432.8,1358.2 433.3,1334.7 433.9,1318.0 435.1,1315.9 437.2,1316.4 438.3,1319.4 439.3,1320.8 440.2,1318.0 441.4,1313.9 442.7,1311.1 444.8,1310.0 447.6,1310.4 449.0,1312.5 450.4,1319.4 451.8,1327.7 453.6,1336.1 455.2,1341.6 455.9,1369.3 456.6,1410.9 457.7,1438.7 459.1,1466.4 459.7,1473.4 460.2,1438.7 460.8,1397.1 461.5,1369.3 462.2,1352.7 463.5,1345.8 464.9,1341.6 466.0,1340.2 467.0,1341.6 468.4,1352.7 469.8,1366.6 471.2,1361.0 472.6,1359.6 473.9,1365.2 474.9,1372.1 476.0,1366.6 477.4,1358.2 478.8,1354.1 480.2,1352.7 481.6,1354.1 483.6,1349.9 485.7,1345.8 487.8,1341.6 489.9,1336.1 492.7,1334.7 494.7,1333.3 496.8,1329.1 498.9,1328.4 500.3,1329.1 501.7,1333.3 503.1,1344.4 504.5,1359.6 505.8,1373.5 507.2,1377.0 508.4,1372.7 510.3,1372.3 511.6,1373.6 513.0,1380.2 514.5,1402.5 515.8,1430.5 517.1,1458.4 518.6,1477.1 519.6,1505.1 520.5,1542.3 522.0,1562.8 522.7,1542.3 523.3,1486.4 523.9,1430.5 524.2,1393.2 524.6,1365.2 525.2,1367.1 526.1,1393.2 527.0,1430.5 528.0,1467.8 528.5,1494.8 529.1,1467.8 529.5,1411.8 530.2,1359.7 531.3,1339.1 533.6,1335.4 536.3,1331.7 539.1,1328.9 541.0,1330.8 543.2,1335.4 544.7,1341.0 546.2,1343.8 548.1,1344.7 549.4,1350.3 550.7,1374.6 551.8,1389.5 552.6,1394.1 554.1,1389.5 555.6,1385.7 556.9,1383.9 557.8,1380.2 558.9,1385.7 560.0,1361.5 561.5,1346.6 563.4,1328.0 565.2,1321.4 568.0,1322.4 570.8,1323.3 572.7,1320.5 574.6,1317.7 577.4,1315.8 579.2,1314.9 581.1,1315.8 583.0,1317.7 584.8,1320.5 586.1,1323.3" fill="none" stroke="#707070" stroke-width="1.5" stroke-linejoin="round"/>
<polyline points="121.1,1315.9 128.2,1316.8 134.4,1316.4 138.4,1315.3 140.5,1313.3 144.6,1312.7 150.7,1312.3 156.8,1312.7 160.9,1312.7 164.0,1313.9 167.1,1315.3 168.7,1320.4 170.1,1324.5 172.2,1327.6 175.2,1329.0 178.3,1330.2 180.3,1327.6 183.0,1328.2 185.4,1330.7 188.5,1333.7 193.6,1334.7 198.7,1336.4 203.8,1337.8 207.9,1338.4 209.6,1336.8 211.0,1335.2 213.0,1332.7 214.1,1331.7 216.1,1331.1 218.1,1330.2 220.2,1328.6 222.2,1325.5 223.9,1321.5 226.3,1320.4 229.4,1320.0 232.5,1318.8 234.9,1320.4 236.5,1322.5 237.4,1325.6 237.8,1350.5 238.3,1361.1 240.1,1371.8 241.9,1378.9 244.5,1386.0 246.3,1394.8 247.2,1421.4 247.7,1448.0 248.1,1465.8 248.9,1474.7 250.7,1481.7 252.5,1488.8 255.2,1494.2 256.9,1503.0 257.8,1510.1 258.7,1536.7 259.6,1554.5 260.5,1566.9 262.3,1577.5 264.0,1588.2 265.8,1581.1 267.6,1563.3 269.0,1545.6 270.2,1519.0 271.5,1506.6 272.5,1519.0 273.4,1545.6 274.7,1542.1 276.1,1527.9 277.3,1510.1 278.2,1474.7 279.1,1439.2 279.6,1403.7 280.3,1386.0 281.8,1368.2 283.5,1350.5 284.4,1338.1 286.2,1335.4 288.9,1334.5 292.4,1333.6 296.0,1332.7 299.5,1331.9 303.1,1331.0 306.6,1330.1 310.1,1331.0 313.7,1328.3 315.3,1325.5 316.8,1322.5 319.4,1324.1 322.5,1324.1 325.5,1322.5 328.6,1321.5 330.2,1318.0 332.7,1317.4 335.8,1318.8 338.8,1319.4 340.9,1318.0 342.9,1316.8 347.0,1318.0 352.1,1319.6 357.2,1318.8 361.3,1318.4 367.4,1318.0 372.6,1318.0 377.7,1316.8 381.8,1318.0 384.8,1319.4 387.9,1320.0 389.9,1318.4 393.0,1317.4 396.1,1318.4 398.1,1320.0 401.2,1321.5 403.2,1325.5 404.6,1330.2 405.9,1327.6 407.3,1325.5 410.4,1325.5 413.4,1326.6 416.5,1329.6 418.5,1333.7 420.2,1338.8 421.0,1342.9 422.2,1339.9 423.9,1336.8 425.0,1340.2 425.8,1355.5 426.8,1366.6 428.2,1374.9 429.6,1379.1 430.5,1381.1 431.4,1377.7 432.3,1362.4 433.7,1345.8 435.1,1333.3 436.5,1325.0 438.3,1322.2 440.0,1322.2 441.4,1327.7 442.5,1331.9 443.8,1327.7 445.5,1320.8 447.2,1319.4 449.0,1322.2 450.8,1327.7 451.8,1336.1 452.4,1355.5 452.7,1383.2 452.7,1424.8 452.4,1466.4 453.1,1487.2 454.1,1494.2 455.2,1480.3 456.3,1452.6 457.3,1410.9 458.3,1383.2 459.4,1355.5 460.8,1344.4 462.8,1338.8 464.9,1336.8 466.0,1337.4 466.3,1344.4 465.6,1369.3 465.6,1383.2 467.0,1380.4 468.4,1377.7 469.8,1374.9 471.2,1381.8 473.2,1390.1 474.9,1393.6 476.0,1388.8 477.4,1383.2 478.8,1379.1 480.2,1374.9 481.6,1372.1 483.0,1371.4 484.3,1373.5 485.7,1374.9 487.1,1377.0 489.2,1379.1 491.3,1381.8 492.0,1379.1 492.7,1368.0 494.1,1365.2 496.1,1364.5 498.2,1363.1 500.3,1361.0 502.1,1359.6 503.1,1361.0 504.5,1372.1 505.8,1383.2 507.2,1380.4 508.4,1379.2 510.3,1379.2 512.1,1378.3 514.9,1379.2 517.7,1376.4 520.5,1373.6 523.3,1371.8 526.1,1370.5 529.8,1369.3 533.6,1368.6 537.3,1367.5 541.0,1368.0 544.7,1368.6 548.5,1368.0 551.3,1366.2 554.1,1364.3 556.3,1362.4 558.7,1363.4 561.5,1365.2 564.3,1365.6 566.2,1363.4 568.0,1360.6 570.8,1358.7 574.6,1357.8 578.3,1357.4 582.0,1357.0 586.1,1356.9" fill="none" stroke="#f45f68" stroke-width="1.5" stroke-linejoin="round"/>
<text x="240.6" y="1431.2" font-size="19.5" text-anchor="start" fill="#5878f2" font-weight="normal" textLength="50.6" lengthAdjust="spacingAndGlyphs" transform="rotate(-90 240.6 1431.2)">2943.77</text>
<text x="248.6" y="1537.6000000000001" font-size="19.5" text-anchor="start" fill="#5878f2" font-weight="normal" textLength="48.8" lengthAdjust="spacingAndGlyphs" transform="rotate(-90 248.6 1537.6000000000001)">2864.33</text>
<text x="254.79999999999998" y="1598.0" font-size="19.5" text-anchor="start" fill="#5878f2" font-weight="normal" textLength="51.5" lengthAdjust="spacingAndGlyphs" transform="rotate(-90 254.79999999999998 1598.0)">2767.85</text>
<text x="289.40000000000003" y="1589.1000000000001" font-size="19.5" text-anchor="start" fill="#5878f2" font-weight="normal" textLength="50.6" lengthAdjust="spacingAndGlyphs" transform="rotate(-90 289.40000000000003 1589.1000000000001)">2695.17</text>
<text x="440.3" y="1432.0" font-size="19.5" text-anchor="start" fill="#5878f2" font-weight="normal" textLength="50.4" lengthAdjust="spacingAndGlyphs" transform="rotate(-90 440.3 1432.0)">1330.98</text>
<text x="473.3" y="1522.7" font-size="19.5" text-anchor="start" fill="#5878f2" font-weight="normal" textLength="49.6" lengthAdjust="spacingAndGlyphs" transform="rotate(-90 473.3 1522.7)">1091.67</text>
<text x="528.5" y="1603.8000000000002" font-size="19.5" text-anchor="start" fill="#5878f2" font-weight="normal" textLength="41.9" lengthAdjust="spacingAndGlyphs" transform="rotate(-90 528.5 1603.8000000000002)">554.15</text>
<text x="545.3000000000001" y="1544.1000000000001" font-size="19.5" text-anchor="start" fill="#5878f2" font-weight="normal" textLength="51.2" lengthAdjust="spacingAndGlyphs" transform="rotate(-90 545.3000000000001 1544.1000000000001)">498.924</text>
<text x="563.9" y="1444.4" font-size="19.5" text-anchor="start" fill="#5878f2" font-weight="normal" textLength="51.2" lengthAdjust="spacingAndGlyphs" transform="rotate(-90 563.9 1444.4)">292.787</text></svg>
</body></html>
